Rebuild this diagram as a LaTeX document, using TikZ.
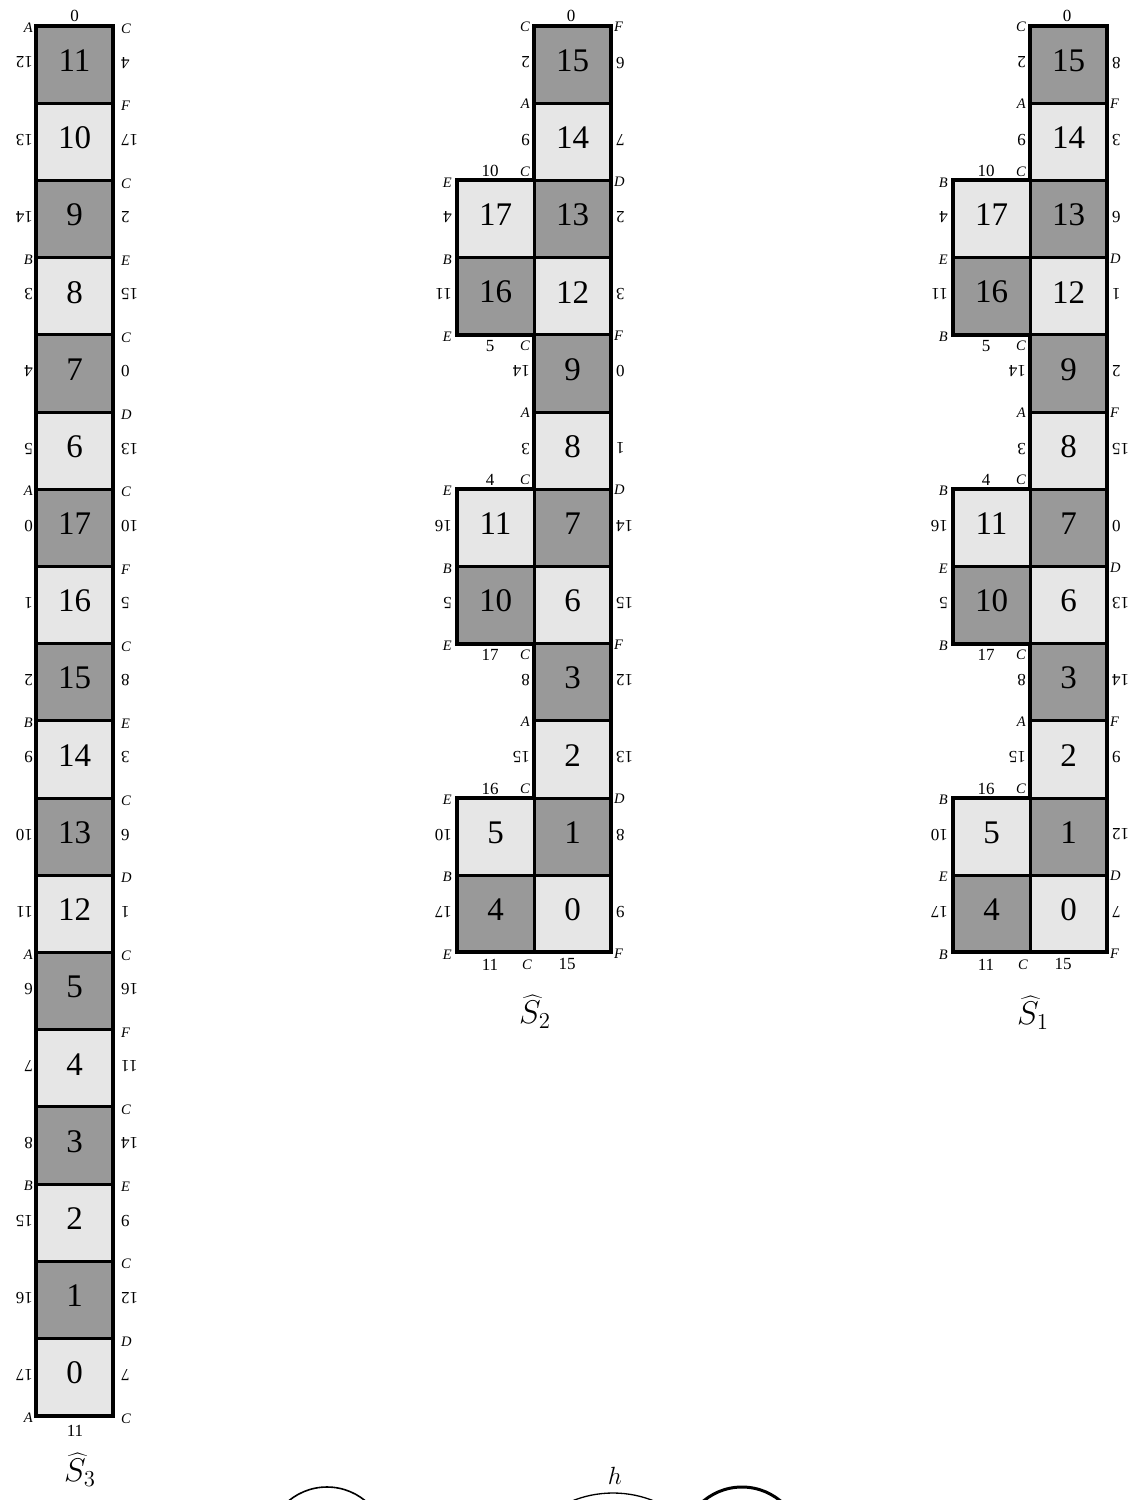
\documentclass[tikz,border=0pt]{standalone}
\usepackage{graphicx}
\usepackage{fontspec}
\setmainfont{Liberation Serif}
\definecolor{cdark}{RGB}{153,153,153}
\definecolor{clight}{RGB}{230,230,230}
\tikzset{
  dk/.style={fill=cdark},
  lt/.style={fill=clight},
  cellbox/.style={draw=black, line width=3pt},
  num/.style={font=\fontsize{33}{33}\selectfont, inner sep=0pt},
  lab/.style={font=\fontsize{17}{17}\selectfont, inner sep=0pt},
  cor/.style={font=\fontsize{14.5}{14.5}\selectfont\itshape, inner sep=0pt},
  outline/.style={draw=black, line width=4pt, line join=miter},
  biglab/.style={inner sep=0pt},
}
\newcommand\rl[1]{\rotatebox[origin=c]{180}{#1}}
\newcommand\shat[1]{\scalebox{1.9}{\LARGE$\widehat{S}_{#1}$}}
% #1 prefix, #2 xL, #3 right labels, #4 right corner letters, #5 left-column letters
\newcommand\twocol[5]{%
 \pgfmathsetmacro\xL{#2}\pgfmathsetmacro\xR{#2+77}
 \foreach \nn/\ff [count=\rr] in {15/dk,14/lt,13/dk,12/lt,9/dk,8/lt,7/dk,6/lt,3/dk,2/lt,1/dk,0/lt}{
   \path[cellbox,\ff] (\xR,{26+(\rr-1)*77.2}) rectangle ({\xR+77},{26+\rr*77.2});
   \node[num] (#1r\nn) at ({\xR+38.5},{26+(\rr-0.5)*77.2-4}) {\nn};
 }
 \foreach \nn/\ff/\rr in {17/lt/3,16/dk/4,11/lt/7,10/dk/8,5/lt/11,4/dk/12}{
   \path[cellbox,\ff] (\xL,{26+(\rr-1)*77.2}) rectangle ({\xL+77},{26+\rr*77.2});
   \node[num] (#1l\nn) at ({\xL+38.5},{26+(\rr-0.5)*77.2-4}) {\nn};
 }
 \draw[outline] (\xR,26) -- ({\xR+77},26) -- ({\xR+77},{26+12*77.2}) -- (\xL,{26+12*77.2})
   -- (\xL,{26+10*77.2}) -- (\xR,{26+10*77.2}) -- (\xR,{26+8*77.2}) -- (\xL,{26+8*77.2})
   -- (\xL,{26+6*77.2}) -- (\xR,{26+6*77.2}) -- (\xR,{26+4*77.2}) -- (\xL,{26+4*77.2})
   -- (\xL,{26+2*77.2}) -- (\xR,{26+2*77.2}) -- cycle;
 \foreach \vv/\oo [count=\rr] in {2/0,9/0,4/1,11/1,14/0,3/0,16/1,5/1,8/0,15/0,10/1,17/1}
   \node[lab,anchor=east] (#1ll\rr) at ({\xR-4-\oo*78},{26+(\rr-0.5)*77.2-2}) {\rl{\vv}};
 \foreach \vv [count=\rr] in {#3}
   \node[lab,anchor=west] (#1rl\rr) at ({\xR+82},{26+(\rr-0.5)*77.2-2}) {\rl{\vv}};
 \foreach \kk/\tl in {#4}
   \node[cor,anchor=west] (#1rc\kk) at ({\xR+80},{26+\kk*77.2+1}) {\tl};
 \foreach \kk/\tl in {#5}
   \node[cor,anchor=east] (#1lc\kk) at ({\xL-5},{26+\kk*77.2+2}) {\tl};
 \foreach \kk/\tl in {0/C,1/A,5/A,9/A}
   \node[cor,anchor=east] (#1ac\kk) at ({\xR-4},{26+\kk*77.2+1}) {\tl};
 \foreach \kk in {2,6,10}
   \node[cor,anchor=south east] (#1nc\kk) at ({\xR-4},{26+\kk*77.2-4}) {C};
 \foreach \kk in {4,8}
   \node[cor,anchor=north east] (#1nc\kk) at ({\xR-4},{26+\kk*77.2+6}) {C};
 \node[cor] (#1bc) at ({\xR-7},{26+12*77.2+12}) {C};
 \node[lab] (#1top) at ({\xR+37},16) {0};
 \foreach \kk/\vv in {2/10,6/4,10/16}
   \node[lab] (#1a\kk) at ({\xL+33},{26+\kk*77.2-9}) {\vv};
 \foreach \kk/\vv in {4/5,8/17}
   \node[lab] (#1b\kk) at ({\xL+33},{26+\kk*77.2+11}) {\vv};
 \node[lab] (#1bl) at ({\xL+33},{26+12*77.2+12}) {11};
 \node[lab] (#1br) at ({\xR+33},{26+12*77.2+12}) {15};
}
\begin{document}
\begin{tikzpicture}[x=1pt,y=-1pt]
\useasboundingbox (0,0) rectangle (1139,1500);
\fill[white] (0,0) rectangle (1139,1500);

% ---------- S3 ----------
\foreach \nn/\ff [count=\rr] in {11/dk,10/lt,9/dk,8/lt,7/dk,6/lt,17/dk,16/lt,15/dk,14/lt,13/dk,12/lt,5/dk,4/lt,3/dk,2/lt,1/dk,0/lt}{
  \path[cellbox,\ff] (36,{26+(\rr-1)*77.2}) rectangle (113,{26+\rr*77.2});
  \node[num] (t\nn) at (74.5,{26+(\rr-0.5)*77.2-4}) {\nn};
}
\draw[outline] (36,26) rectangle (113,{26+18*77.2});
\foreach \vv [count=\rr] in {12,13,14,3,4,5,0,1,2,9,10,11,6,7,8,15,16,17}
  \node[lab,anchor=east] (tl\rr) at (33,{26+(\rr-0.5)*77.2-2}) {\rl{\vv}};
\foreach \vv [count=\rr] in {4,17,2,15,0,13,10,5,8,3,6,1,16,11,14,9,12,7}
  \node[lab,anchor=west] (tr\rr) at (121,{26+(\rr-0.5)*77.2-2}) {\rl{\vv}};
\foreach \kk/\tl in {0/A,3/B,6/A,9/B,12/A,15/B,18/A}
  \node[cor,anchor=east] (tlc\kk) at (33,{26+\kk*77.2+2}) {\tl};
\foreach \tl [count=\kk from 0] in {C,F,C,E,C,D,C,F,C,E,C,D,C,F,C,E,C,D,C}
  \node[cor,anchor=west] (trc\kk) at (121,{26+\kk*77.2+3}) {\tl};
\node[lab] (ttop) at (74.5,16) {0};
\node[lab] (tbot) at (75,1431) {11};
\node[biglab] (S3) at (80,1470) {\shat{3}};

% ---------- S2 ----------
\twocol{m}{457}{6,7,2,3,0,1,14,15,12,13,8,9}{0/F,2/D,4/F,6/D,8/F,10/D,12/F}{2/E,3/B,4/E,6/E,7/B,8/E,10/E,11/B,12/E}
\node[biglab] (S2) at (535,1012) {\shat{2}};

% ---------- S1 ----------
\twocol{r}{953}{8,3,6,1,2,15,0,13,14,9,12,7}{1/F,3/D,5/F,7/D,9/F,11/D,12/F}{2/B,3/E,4/B,6/B,7/E,8/B,10/B,11/E,12/B}
\node[biglab] (S1) at (1033,1013) {\shat{1}};

% ---------- bottom (cut-off) ----------
\begin{scope}
\clip (0,0) rectangle (1139,1500);
\draw[line width=1.6pt] (327,1547) circle (60pt);
\draw[line width=1.3pt] (613,1602) circle (109pt);
\draw[line width=3pt] (742,1547) circle (60pt);
\end{scope}
\node[font=\fontsize{24}{24}\selectfont, inner sep=0pt] (hl) at (615,1476) {$h$};
\end{tikzpicture}
\end{document}
